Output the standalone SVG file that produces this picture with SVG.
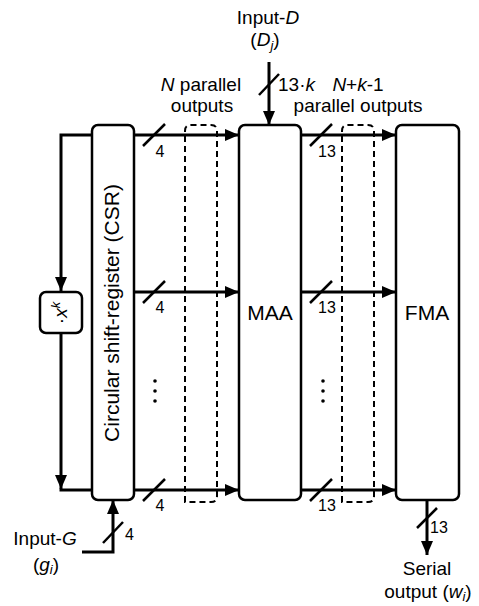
<svg xmlns="http://www.w3.org/2000/svg" width="479" height="606" viewBox="0 0 479 606">
<defs>
<marker id="ah" markerUnits="userSpaceOnUse" markerWidth="14" markerHeight="12" refX="14" refY="6" orient="auto">
<path d="M0,0 L14,6 L0,12 z" fill="#000"/>
</marker>
<style>
text{font-family:"Liberation Sans",Arial,sans-serif;fill:#000}
.lbl{font-size:19px}
.num{font-size:16px}
.big{font-size:21px}
.box{fill:#fff;stroke:#000;stroke-width:2.5}
.dash{fill:none;stroke:#000;stroke-width:2;stroke-dasharray:6 4}
.ln{fill:none;stroke:#000;stroke-width:3}
.sl{stroke:#000;stroke-width:2.5}
.it{font-style:italic}
</style>
</defs>
<rect width="479" height="606" fill="#fff"/>

<g id="dashed-groups">
<path class="dash" d="M185,502 V131 Q185,125 191,125 H211 Q217,125 217,131 V496 Q217,502 211,502 Z"/>
<path class="dash" d="M342,502 V131 Q342,125 348,125 H368 Q374,125 374,131 V496 Q374,502 368,502 Z"/>
</g>

<g id="csr">
<rect class="box" x="92" y="125" width="42" height="375" rx="6"/>
<text class="big" text-anchor="middle" transform="translate(119,313) rotate(-90)">Circular shift-register (CSR)</text>
</g>

<g id="maa">
<rect class="box" x="239" y="125" width="62" height="375" rx="6"/>
<text class="big" x="270" y="320" text-anchor="middle">MAA</text>
</g>

<g id="fma">
<rect class="box" x="396" y="125" width="63" height="375" rx="6"/>
<text class="big" x="427" y="320" text-anchor="middle">FMA</text>
</g>

<g id="xk">
<rect class="box" x="40" y="292" width="42" height="41" rx="6"/>
<text class="lbl" transform="translate(67,313) rotate(-90)" text-anchor="middle">·<tspan class="it">x</tspan><tspan class="it" font-size="13" dy="-7">k</tspan></text>
</g>

<g id="connectors">
<path class="ln" d="M92,135 H61 V291" marker-end="url(#ah)"/>
<path class="ln" d="M61,333 V489" marker-end="url(#ah)"/>
<path class="ln" d="M59.5,490 H92"/>
<path class="ln" d="M134,135 H239" marker-end="url(#ah)"/>
<path class="ln" d="M134,292 H239" marker-end="url(#ah)"/>
<path class="ln" d="M134,490 H239" marker-end="url(#ah)"/>
<path class="ln" d="M301,135 H396" marker-end="url(#ah)"/>
<path class="ln" d="M301,292 H396" marker-end="url(#ah)"/>
<path class="ln" d="M301,490 H396" marker-end="url(#ah)"/>
<path class="ln" d="M269,62 V125" marker-end="url(#ah)"/>
<path class="ln" d="M82,552 H113 V500" marker-end="url(#ah)"/>
<path class="ln" d="M427,500 V555" marker-end="url(#ah)"/>
<line class="sl" x1="143" y1="146" x2="165" y2="124"/>
<line class="sl" x1="143" y1="303" x2="165" y2="281"/>
<line class="sl" x1="143" y1="501" x2="165" y2="479"/>
<line class="sl" x1="310" y1="146" x2="332" y2="124"/>
<line class="sl" x1="310" y1="303" x2="332" y2="281"/>
<line class="sl" x1="310" y1="501" x2="332" y2="479"/>
<line class="sl" x1="259" y1="95" x2="279" y2="74"/>
<line class="sl" x1="103" y1="543" x2="123" y2="522"/>
<line class="sl" x1="417" y1="528" x2="437" y2="508"/>
</g>

<g id="labels">
<text class="num" x="160" y="157" text-anchor="middle">4</text>
<text class="num" x="160" y="313" text-anchor="middle">4</text>
<text class="num" x="160" y="511" text-anchor="middle">4</text>
<text class="num" x="327" y="157" text-anchor="middle">13</text>
<text class="num" x="327" y="313" text-anchor="middle">13</text>
<text class="num" x="327" y="511" text-anchor="middle">13</text>
<text class="num" x="125" y="540">4</text>
<text class="num" x="430" y="533">13</text>

<text class="lbl" x="268" y="24" text-anchor="middle">Input-<tspan class="it">D</tspan></text>
<text class="lbl" x="265" y="46" text-anchor="middle">(<tspan class="it">D</tspan><tspan class="it" font-size="13" dy="4">j</tspan><tspan dy="-4">)</tspan></text>
<text class="lbl" x="278" y="91">13·<tspan class="it">k</tspan></text>

<text class="lbl" x="201" y="91" text-anchor="middle"><tspan class="it">N</tspan> parallel</text>
<text class="lbl" x="202" y="112" text-anchor="middle">outputs</text>
<text class="lbl" x="358" y="91" text-anchor="middle"><tspan class="it">N</tspan>+<tspan class="it">k</tspan>-1</text>
<text class="lbl" x="358" y="112" text-anchor="middle">parallel outputs</text>

<text class="lbl" x="45" y="545" text-anchor="middle">Input-<tspan class="it">G</tspan></text>
<text class="lbl" x="46" y="571" text-anchor="middle">(<tspan class="it">g</tspan><tspan class="it" font-size="13" dy="3">i</tspan><tspan dy="-3">)</tspan></text>

<text class="lbl" x="427" y="575" text-anchor="middle">Serial</text>
<text class="lbl" x="428" y="598" text-anchor="middle">output (<tspan class="it">w</tspan><tspan class="it" font-size="13" dy="3">i</tspan><tspan dy="-3">)</tspan></text>

<g id="dots">
<circle cx="155" cy="381" r="1.8"/>
<circle cx="155" cy="391" r="1.8"/>
<circle cx="155" cy="401" r="1.8"/>
<circle cx="323" cy="381" r="1.8"/>
<circle cx="323" cy="391" r="1.8"/>
<circle cx="323" cy="401" r="1.8"/>
</g>
</g>
</svg>
